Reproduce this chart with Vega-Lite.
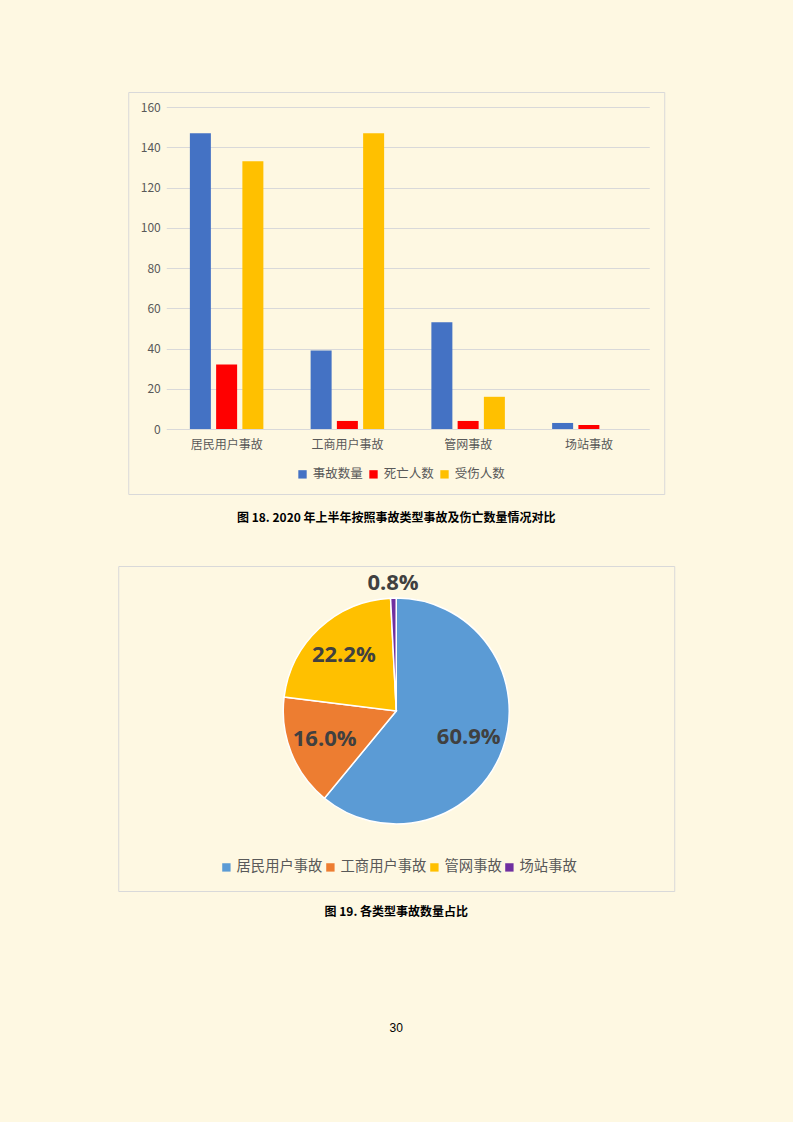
{
  "$schema": "https://vega.github.io/schema/vega-lite/v6.json",
  "background": "#FEF8E2",
  "padding": {"left": 117, "top": 91, "right": 120, "bottom": 88},
  "title": {
    "text": "30",
    "orient": "bottom",
    "anchor": "middle",
    "font": "Liberation Sans",
    "fontSize": 12,
    "fontWeight": "normal",
    "color": "#000000",
    "offset": 104
  },
  "config": {
    "view": {"stroke": "#D9D9D9", "strokeWidth": 1},
    "font": "Noto Sans CJK SC"
  },
  "resolve": {
    "scale": {"color": "independent"},
    "legend": {"color": "independent"}
  },
  "spacing": 40,
  "center": true,
  "vconcat": [
    {
      "width": 536,
      "height": 402,
      "title": {
        "text": "图 18.  2020 年上半年按照事故类型事故及伤亡数量情况对比",
        "orient": "bottom",
        "anchor": "middle",
        "font": "Noto Sans CJK SC",
        "fontSize": 12,
        "fontWeight": "bold",
        "color": "#000000",
        "offset": 19
      },
      "data": {
        "values": [
          {"type": "居民用户事故", "series": "事故数量", "value": 147},
          {"type": "居民用户事故", "series": "死亡人数", "value": 32},
          {"type": "居民用户事故", "series": "受伤人数", "value": 133},
          {"type": "工商用户事故", "series": "事故数量", "value": 39},
          {"type": "工商用户事故", "series": "死亡人数", "value": 4},
          {"type": "工商用户事故", "series": "受伤人数", "value": 147},
          {"type": "管网事故", "series": "事故数量", "value": 53},
          {"type": "管网事故", "series": "死亡人数", "value": 4},
          {"type": "管网事故", "series": "受伤人数", "value": 16},
          {"type": "场站事故", "series": "事故数量", "value": 3},
          {"type": "场站事故", "series": "死亡人数", "value": 2},
          {"type": "场站事故", "series": "受伤人数", "value": 0}
        ]
      },
      "mark": {"type": "bar"},
      "encoding": {
        "x": {
          "field": "type",
          "type": "nominal",
          "sort": ["居民用户事故", "工商用户事故", "管网事故", "场站事故"],
          "scale": {"range": [38, 521], "paddingInner": 0, "paddingOuter": 0},
          "axis": {
            "title": null,
            "labelAngle": 0,
            "domain": false,
            "ticks": false,
            "offset": -65,
            "labelPadding": 10,
            "labelFontSize": 12,
            "labelColor": "#595959"
          }
        },
        "xOffset": {
          "field": "series",
          "sort": ["事故数量", "死亡人数", "受伤人数"],
          "scale": {"paddingInner": 0.2, "paddingOuter": 0.9}
        },
        "y": {
          "field": "value",
          "type": "quantitative",
          "scale": {"domain": [0, 160], "range": [337, 15], "nice": false},
          "axis": {
            "title": null,
            "values": [0, 20, 40, 60, 80, 100, 120, 140, 160],
            "domain": false,
            "ticks": false,
            "offset": -38,
            "labelPadding": 6,
            "labelFontSize": 12,
            "labelColor": "#595959",
            "gridColor": "#D9D9D9"
          }
        },
        "color": {
          "field": "series",
          "type": "nominal",
          "scale": {
            "domain": ["事故数量", "死亡人数", "受伤人数"],
            "range": ["#4472C4", "#FF0000", "#FFC000"]
          },
          "legend": {
            "title": null,
            "orient": "none",
            "legendX": 168,
            "legendY": 376,
            "direction": "horizontal",
            "symbolType": "square",
            "symbolSize": 70,
            "symbolStrokeWidth": 0,
            "labelFontSize": 12.5,
            "labelColor": "#595959",
            "columnPadding": 4
          }
        }
      }
    },
    {
      "width": 556,
      "height": 325,
      "title": {
        "text": "图 19.   各类型事故数量占比",
        "orient": "bottom",
        "anchor": "middle",
        "font": "Noto Sans CJK SC",
        "fontSize": 12,
        "fontWeight": "bold",
        "color": "#000000",
        "offset": 16
      },
      "data": {
        "values": [
          {"type": "居民用户事故", "pct": 0.609, "rank": 1},
          {"type": "工商用户事故", "pct": 0.16, "rank": 2},
          {"type": "管网事故", "pct": 0.222, "rank": 3},
          {"type": "场站事故", "pct": 0.008, "rank": 4}
        ]
      },
      "encoding": {
        "theta": {"field": "pct", "type": "quantitative", "stack": true},
        "order": {"field": "rank", "type": "quantitative"},
        "y": {
          "datum": 0,
          "type": "quantitative",
          "scale": {"domain": [-180, 145]},
          "axis": null
        },
        "color": {
          "field": "type",
          "type": "nominal",
          "scale": {
            "domain": ["居民用户事故", "工商用户事故", "管网事故", "场站事故"],
            "range": ["#5B9BD5", "#ED7D31", "#FFC000", "#7030A0"]
          },
          "legend": {
            "title": null,
            "orient": "none",
            "legendX": 101,
            "legendY": 294,
            "direction": "horizontal",
            "symbolType": "square",
            "symbolSize": 70,
            "symbolStrokeWidth": 0,
            "labelFontSize": 14.3,
            "labelOffset": 3,
            "labelColor": "#595959",
            "columnPadding": 0
          }
        }
      },
      "layer": [
        {
          "mark": {"type": "arc", "radius": 113, "stroke": "#FFFFFF", "strokeWidth": 1.5}
        },
        {
          "mark": {
            "type": "text",
            "radius": 77,
            "font": "Open Sans",
            "fontSize": 22,
            "fontWeight": "bold"
          },
          "encoding": {
            "text": {
              "condition": {"test": "datum.pct > 0.05", "field": "pct", "type": "quantitative", "format": ".1%"},
              "value": ""
            },
            "color": {"value": "#404040"}
          }
        },
        {
          "mark": {
            "type": "text",
            "radius": 128,
            "font": "Open Sans",
            "fontSize": 22,
            "fontWeight": "bold"
          },
          "encoding": {
            "text": {
              "condition": {"test": "datum.pct <= 0.05", "field": "pct", "type": "quantitative", "format": ".1%"},
              "value": ""
            },
            "color": {"value": "#404040"}
          }
        }
      ]
    }
  ]
}
